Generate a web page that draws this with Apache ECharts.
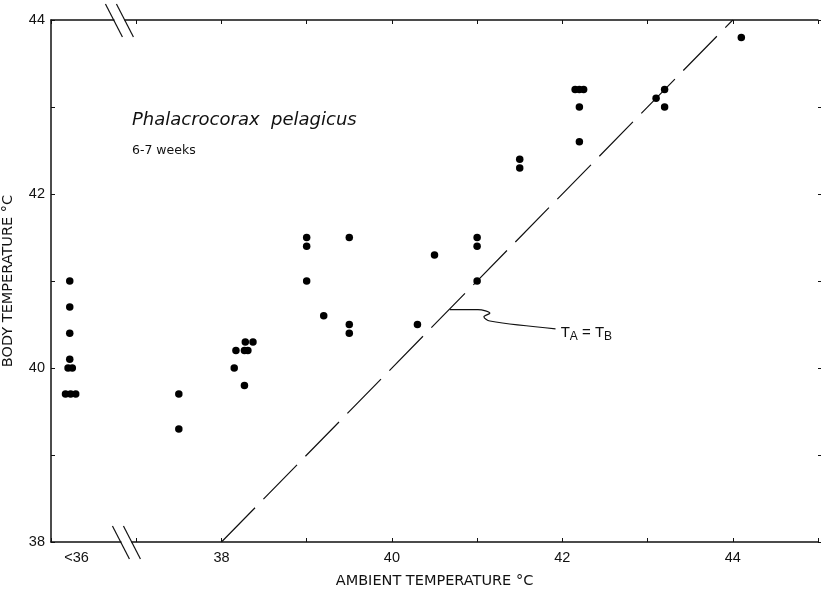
<!DOCTYPE html>
<html><head><meta charset="utf-8">
<script src="https://cdn.jsdelivr.net/npm/echarts@6/dist/echarts.min.js"></script>
<style>html,body{margin:0;padding:0;background:#fff}#c{width:822px;height:591px}</style>
</head><body><div id="c"></div>
<script>
// Ambient temperature (plotted position; the "<36" group sits just right of the axis start)
const ambientT = [36.22, 36.22, 36.22, 36.22, 36.20, 36.25, 36.17, 36.23, 36.29,
  37.5, 37.5,
  38.15, 38.27, 38.17, 38.27, 38.31, 38.28, 38.37,
  39.0, 39.0, 39.0, 39.5, 39.2, 39.5, 39.5,
  40.3, 40.5, 41.0, 41.0, 41.0, 41.5, 41.5,
  42.15, 42.2, 42.25, 42.2, 42.2,
  43.1, 43.2, 43.2, 44.1];
const bodyT = [41.0, 40.7, 40.4, 40.1, 40.0, 40.0, 39.7, 39.7, 39.7,
  39.7, 39.3,
  40.0, 39.8, 40.2, 40.2, 40.2, 40.3, 40.3,
  41.5, 41.4, 41.0, 41.5, 40.6, 40.5, 40.4,
  40.5, 41.3, 41.5, 41.4, 41.0, 42.4, 42.3,
  43.2, 43.2, 43.2, 43.0, 42.6,
  43.1, 43.2, 43.0, 43.8];
// T_A = T_B line end points
const identityEnds = [38, 44];
// Leader line from the identity line to its label
const leaderX = [40.68, 41.01, 41.15, 41.08, 41.15, 41.92];
const leaderY = [40.67, 40.67, 40.63, 40.59, 40.54, 40.45];
const leaderLabelPos = [41.98, 40.40];
const xTickLabels = [38, 40, 42, 44];
const yTickLabels = [38, 40, 42, 44];
const belowLabel = '<36';
const belowLabelPos = 36.3;
const breakPos = 36.85;
const speciesTitle = 'Phalacrocorax  pelagicus';
const ageTitle = '6-7 weeks';
const xName = 'AMBIENT TEMPERATURE \u00B0C';
const yName = 'BODY TEMPERATURE \u00B0C';

const FONT = "'Liberation Sans', Arial, sans-serif";
const WFONT = "'DejaVu Sans', 'Liberation Sans', sans-serif";
const INK = '#111';
const chart = echarts.init(document.getElementById('c'));

const scatterData = ambientT.map((x, i) => [x, bodyT[i]]);
const leaderData = leaderX.map((x, i) => [x, leaderY[i]]);

chart.setOption({
  animation: false,
  backgroundColor: '#fff',
  grid: { left: 51, right: 4, top: 20, bottom: 49, containLabel: false, outerBoundsMode: 'none' },
  xAxis: [{
    type: 'value', min: 36, max: 45, interval: 1, position: 'bottom',
    name: xName, nameLocation: 'middle', nameGap: 32,
    nameTextStyle: { color: INK, fontFamily: WFONT, fontSize: 14.5 },
    axisLine: { show: true, lineStyle: { color: INK, width: 1.5 } },
    axisTick: { show: true, inside: true, length: 4, lineStyle: { color: INK } },
    axisLabel: { show: true, color: INK, fontFamily: FONT, fontSize: 14.5, margin: 8,
      formatter: v => xTickLabels.includes(v) ? String(v) : '' },
    splitLine: { show: false }
  }, {
    type: 'value', min: 36, max: 45, interval: 1, position: 'top',
    axisLine: { show: true, lineStyle: { color: INK, width: 1.5 } },
    axisTick: { show: true, inside: true, length: 4, lineStyle: { color: INK } },
    axisLabel: { show: false }, splitLine: { show: false }
  }],
  yAxis: [{
    type: 'value', min: 38, max: 44, interval: 1, position: 'left',
    name: yName, nameLocation: 'middle', nameGap: 35, nameRotate: 90,
    nameTextStyle: { color: INK, fontFamily: WFONT, fontSize: 14.5 },
    axisLine: { show: true, lineStyle: { color: INK, width: 1.5 } },
    axisTick: { show: true, inside: true, length: 4, lineStyle: { color: INK } },
    axisLabel: { show: true, color: INK, fontFamily: FONT, fontSize: 14.5, margin: 6,
      formatter: v => yTickLabels.includes(v) ? String(v) : '' },
    splitLine: { show: false }
  }, {
    type: 'value', min: 38, max: 44, interval: 1, position: 'right',
    axisLine: { show: false },
    axisTick: { show: true, inside: false, length: 3, lineStyle: { color: INK } },
    axisLabel: { show: false }, splitLine: { show: false }
  }],
  series: [{
    type: 'line', data: identityEnds.map(v => [v, v]), symbol: 'none',
    lineStyle: { color: INK, width: 1.2, type: [48, 12] }, silent: true, z: 1
  }, {
    type: 'line', data: leaderData, symbol: 'none', smooth: 0.35,
    lineStyle: { color: INK, width: 1.2 }, silent: true, z: 1
  }, {
    type: 'scatter', data: scatterData, symbol: 'circle', symbolSize: 7.5,
    itemStyle: { color: '#000', opacity: 1 }, z: 3
  }]
});

function px(x, y) { return chart.convertToPixel({ gridIndex: 0 }, [x, y]); }
const b0 = px(breakPos, 38), t0 = px(breakPos, 44);
const lt = px(belowLabelPos, 38);
const ll = px(leaderLabelPos[0], leaderLabelPos[1]);
const sp = px(36.95, 42.85);
const ag = px(36.95, 42.5);

function breakMark(cx, cy) {
  return [
    { type: 'rect', shape: { x: cx - 5, y: cy - 3, width: 10, height: 6 }, style: { fill: '#fff' }, z: 50 },
    { type: 'line', shape: { x1: cx - 14, y1: cy - 16, x2: cx + 3, y2: cy + 17 }, style: { stroke: INK, lineWidth: 1.2 }, z: 51 },
    { type: 'line', shape: { x1: cx - 3, y1: cy - 16, x2: cx + 14, y2: cy + 17 }, style: { stroke: INK, lineWidth: 1.2 }, z: 51 }
  ];
}

chart.setOption({
  graphic: [
    ...breakMark(b0[0] + 3, b0[1]),
    ...breakMark(t0[0] - 4, t0[1]),
    { type: 'text', x: lt[0], y: lt[1] + 8, style: { text: belowLabel, fill: INK, font: '14.5px ' + FONT, align: 'center', verticalAlign: 'top' }, z: 60 },
    { type: 'text', x: sp[0], y: sp[1], style: { text: speciesTitle, fill: INK, font: 'italic 18px ' + WFONT, align: 'left', verticalAlign: 'middle' }, z: 60 },
    { type: 'text', x: ag[0], y: ag[1], style: { text: ageTitle, fill: INK, font: '12.5px ' + WFONT, align: 'left', verticalAlign: 'middle' }, z: 60 },
    { type: 'text', x: ll[0], y: ll[1], style: {
        text: 'T{s|A} = T{s|B}', fill: INK, font: '15px ' + FONT, align: 'left', verticalAlign: 'middle',
        rich: { s: { fontSize: 12, fontFamily: FONT, fill: INK, verticalAlign: 'bottom', padding: [7, 0, 0, 0] } } }, z: 60 }
  ]
});
</script>
</body></html>
